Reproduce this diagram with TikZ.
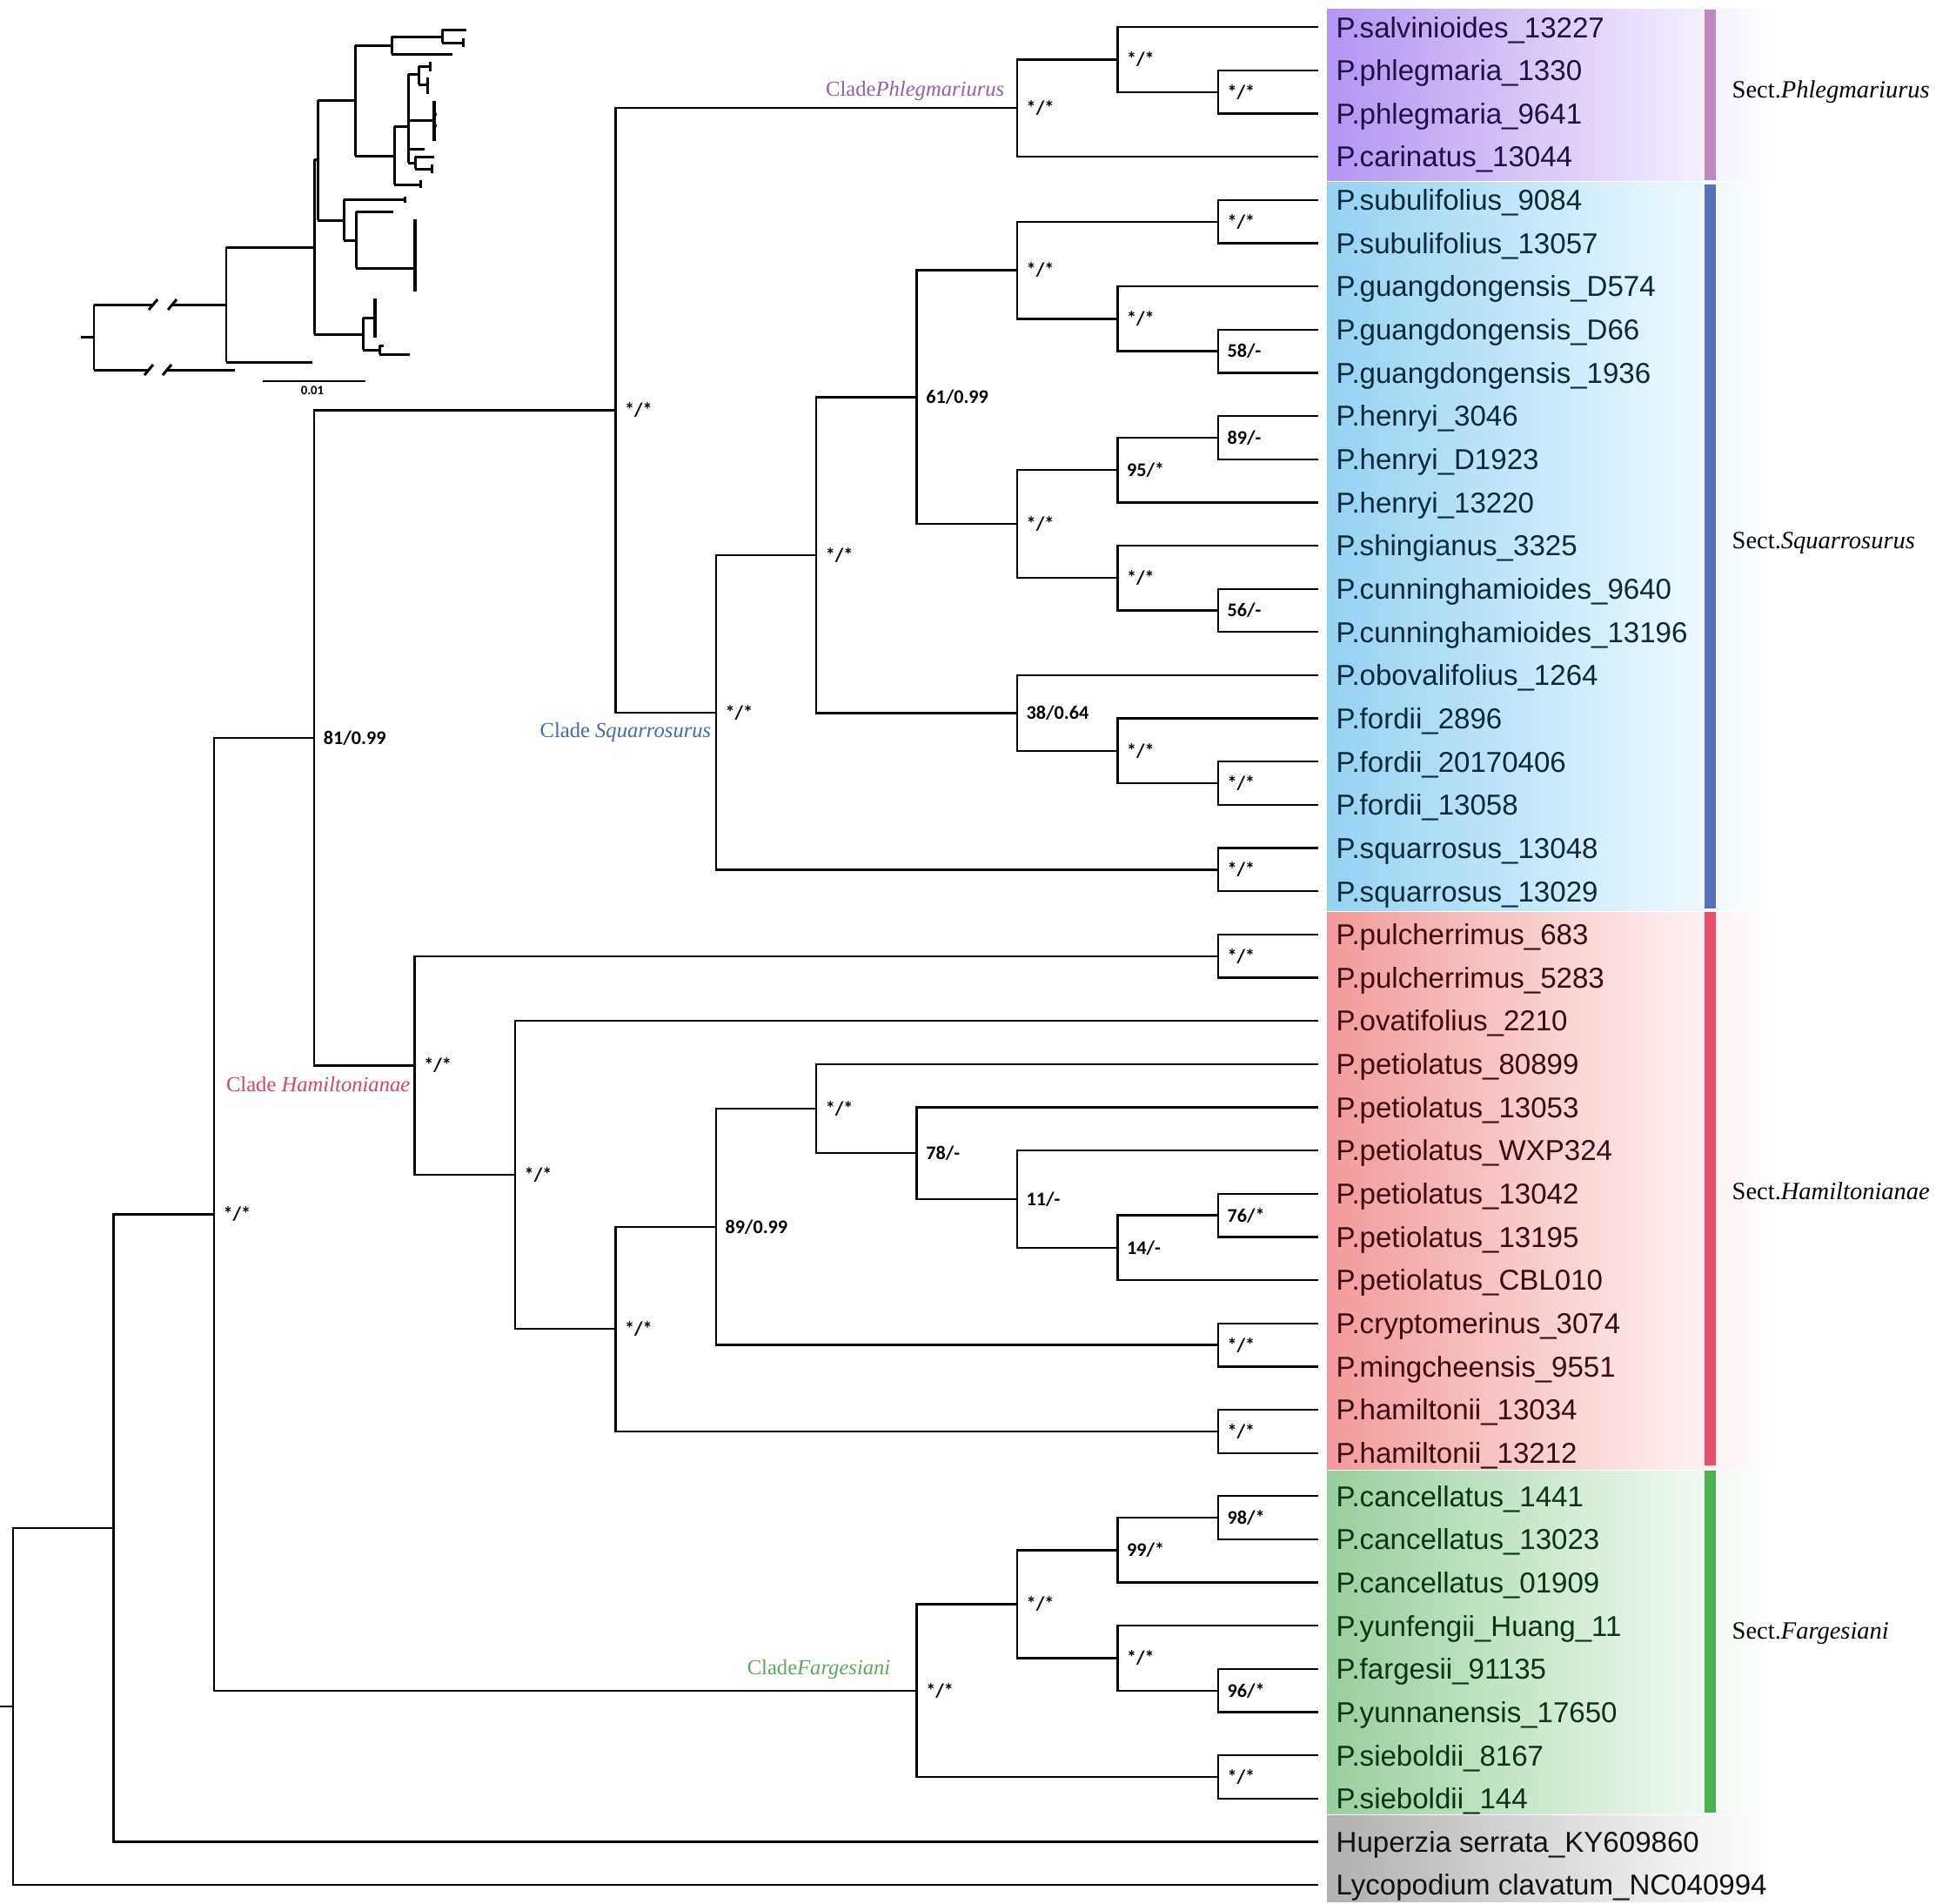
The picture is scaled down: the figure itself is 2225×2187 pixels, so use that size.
\documentclass[tikz,border=0pt]{standalone}
\usepackage{fontspec}
\setmainfont{Liberation Serif}
\newfontfamily\leaffont{Liberation Sans}
\newfontfamily\supfamily{Carlito}
\definecolor{phlL}{HTML}{B394F3}\definecolor{phlM}{HTML}{DCCBF8}
\definecolor{sqrL}{HTML}{94D2F3}\definecolor{sqrM}{HTML}{C9EAFA}
\definecolor{hamL}{HTML}{F29A9B}\definecolor{hamM}{HTML}{FAD0D0}
\definecolor{farL}{HTML}{98CF9E}\definecolor{farM}{HTML}{CFE9D1}
\definecolor{outL}{HTML}{B0B0B0}\definecolor{outM}{HTML}{DADADA}
\definecolor{phlB}{HTML}{BF87BF}\definecolor{sqrB}{HTML}{5872B8}
\definecolor{hamB}{HTML}{E94F6C}\definecolor{farB}{HTML}{4CAF50}
\definecolor{phlT}{HTML}{1E1046}\definecolor{sqrT}{HTML}{0A2A3C}
\definecolor{hamT}{HTML}{3C0A10}\definecolor{farT}{HTML}{0A3414}
\definecolor{outT}{HTML}{111111}
\definecolor{phlC}{HTML}{8C63A8}\definecolor{sqrC}{HTML}{3F6CB2}
\definecolor{hamC}{HTML}{D6436C}\definecolor{farC}{HTML}{5FA660}
\newcommand\leafrow[3]{%
  \coordinate (t#1) at (1515.2,{31.2+49.65*#1});
  \node[leaf,text=#3] (l#1) at (1535,{43+49.65*#1}) {#2};}
\newcommand\suplab[2]{\node[suplabel] (s#1) at (n#1) {#2};}
\begin{document}
\begin{tikzpicture}[x=0.01cm,y=-0.01cm,
  br/.style={line width=0.65pt,line join=miter},
  ins/.style={line width=0.85pt},
  leaf/.style={font=\leaffont\fontsize{9.4}{11}\selectfont,anchor=base west,inner sep=0pt},
  suplabel/.style={font=\supfamily\bfseries\fontsize{6.3}{7}\selectfont,anchor=west,inner sep=0pt,xshift=0.1cm},
  clade/.style={font=\fontsize{7}{8}\selectfont,anchor=base east,inner sep=0pt},
  sect/.style={font=\fontsize{8.1}{9}\selectfont,anchor=west,inner sep=0pt}]
\useasboundingbox (0,0) rectangle (2225,2187);
% ---------- coloured bands ----------
\shade[left color=phlL,right color=white,middle color=phlM] (1525,10) rectangle (2035,207.7);
\shade[left color=sqrL,right color=white,middle color=sqrM] (1525,209.7) rectangle (2035,1046);
\shade[left color=hamL,right color=white,middle color=hamM] (1525,1048) rectangle (2035,1688.6);
\shade[left color=farL,right color=white,middle color=farM] (1525,1690.6) rectangle (2035,2084);
\shade[left color=outL,right color=white,middle color=outM] (1525,2086) rectangle (2035,2185);
\fill[phlB] (1959,11) rectangle (1972,207);
\fill[sqrB] (1959,212) rectangle (1972,1044);
\fill[hamB] (1959,1048) rectangle (1972,1684);
\fill[farB] (1959,1690) rectangle (1972,2083);
\node[sect] (sPh) at (1990,106) {Sect.\textit{Phlegmariurus}};
\node[sect] (sSq) at (1990,624) {Sect.\textit{Squarrosurus}};
\node[sect] (sHa) at (1990,1369) {Sect.\textit{Hamiltonianae}};
\node[sect] (sFa) at (1990,1877) {Sect.\textit{Fargesiani}};
% ---------- leaves ----------
\leafrow{0}{P.salvinioides\_13227}{phlT}
\leafrow{1}{P.phlegmaria\_1330}{phlT}
\leafrow{2}{P.phlegmaria\_9641}{phlT}
\leafrow{3}{P.carinatus\_13044}{phlT}
\leafrow{4}{P.subulifolius\_9084}{sqrT}
\leafrow{5}{P.subulifolius\_13057}{sqrT}
\leafrow{6}{P.guangdongensis\_D574}{sqrT}
\leafrow{7}{P.guangdongensis\_D66}{sqrT}
\leafrow{8}{P.guangdongensis\_1936}{sqrT}
\leafrow{9}{P.henryi\_3046}{sqrT}
\leafrow{10}{P.henryi\_D1923}{sqrT}
\leafrow{11}{P.henryi\_13220}{sqrT}
\leafrow{12}{P.shingianus\_3325}{sqrT}
\leafrow{13}{P.cunninghamioides\_9640}{sqrT}
\leafrow{14}{P.cunninghamioides\_13196}{sqrT}
\leafrow{15}{P.obovalifolius\_1264}{sqrT}
\leafrow{16}{P.fordii\_2896}{sqrT}
\leafrow{17}{P.fordii\_20170406}{sqrT}
\leafrow{18}{P.fordii\_13058}{sqrT}
\leafrow{19}{P.squarrosus\_13048}{sqrT}
\leafrow{20}{P.squarrosus\_13029}{sqrT}
\leafrow{21}{P.pulcherrimus\_683}{hamT}
\leafrow{22}{P.pulcherrimus\_5283}{hamT}
\leafrow{23}{P.ovatifolius\_2210}{hamT}
\leafrow{24}{P.petiolatus\_80899}{hamT}
\leafrow{25}{P.petiolatus\_13053}{hamT}
\leafrow{26}{P.petiolatus\_WXP324}{hamT}
\leafrow{27}{P.petiolatus\_13042}{hamT}
\leafrow{28}{P.petiolatus\_13195}{hamT}
\leafrow{29}{P.petiolatus\_CBL010}{hamT}
\leafrow{30}{P.cryptomerinus\_3074}{hamT}
\leafrow{31}{P.mingcheensis\_9551}{hamT}
\leafrow{32}{P.hamiltonii\_13034}{hamT}
\leafrow{33}{P.hamiltonii\_13212}{hamT}
\leafrow{34}{P.cancellatus\_1441}{farT}
\leafrow{35}{P.cancellatus\_13023}{farT}
\leafrow{36}{P.cancellatus\_01909}{farT}
\leafrow{37}{P.yunfengii\_Huang\_11}{farT}
\leafrow{38}{P.fargesii\_91135}{farT}
\leafrow{39}{P.yunnanensis\_17650}{farT}
\leafrow{40}{P.sieboldii\_8167}{farT}
\leafrow{41}{P.sieboldii\_144}{farT}
\leafrow{42}{Huperzia serrata\_KY609860}{outT}
\leafrow{43}{Lycopodium clavatum\_NC040994}{outT}
% ---------- internal nodes ----------
\coordinate (stub) at (0,1961);
\coordinate (nRoot) at (15,1961);
\coordinate (nA) at (130.4,1755.95);
\coordinate (nB) at (245.8,1395.4);
\coordinate (nC) at (361.2,848);
\coordinate (nD) at (707.4,471.5);
\coordinate (nF) at (1169,124.3);
\coordinate (nF1) at (1284.4,68.45);
\coordinate (nF2) at (1399.8,105.7);
\coordinate (nE) at (822.8,818.65);
\coordinate (nG) at (938.2,637.9);
\coordinate (nI) at (1053.6,456.35);
\coordinate (nK) at (1169,310.5);
\coordinate (nK1) at (1399.8,254.65);
\coordinate (nK2) at (1284.4,366.35);
\coordinate (nK3) at (1399.8,403.6);
\coordinate (nL) at (1169,602.2);
\coordinate (nL1) at (1284.4,540.15);
\coordinate (nL1a) at (1399.8,502.9);
\coordinate (nL2) at (1284.4,664.25);
\coordinate (nL2a) at (1399.8,701.5);
\coordinate (nJ) at (1169,819.4);
\coordinate (nJ1) at (1284.4,862.85);
\coordinate (nJ2) at (1399.8,900.1);
\coordinate (nH) at (1399.8,999.4);
\coordinate (nM) at (476.6,1224.5);
\coordinate (nM1) at (1399.8,1098.7);
\coordinate (nN) at (592,1350.25);
\coordinate (nO) at (707.4,1527.3);
\coordinate (nP) at (822.8,1409.8);
\coordinate (nQ) at (938.2,1274);
\coordinate (nR) at (1053.6,1325.2);
\coordinate (nS) at (1169,1377.95);
\coordinate (nT) at (1284.4,1433.85);
\coordinate (nU) at (1399.8,1396.6);
\coordinate (nP2) at (1399.8,1545.55);
\coordinate (nO2) at (1399.8,1644.85);
\coordinate (nV) at (1053.6,1942.75);
\coordinate (nW) at (1169,1843.45);
\coordinate (nX) at (1284.4,1781.4);
\coordinate (nX1) at (1399.8,1744.15);
\coordinate (nY) at (1284.4,1905.5);
\coordinate (nY1) at (1399.8,1942.75);
\coordinate (nZ) at (1399.8,2042.05);
% ---------- branches ----------
\draw[br] (stub) -- (nRoot);
\foreach \p/\a/\b in {nRoot/nA/t43, nA/nB/t42, nB/nC/nV, nC/nD/nM, nD/nF/nE,
  nF/nF1/t3, nF1/t0/nF2, nF2/t1/t2, nE/nG/nH, nG/nI/nJ, nI/nK/nL,
  nK/nK1/nK2, nK1/t4/t5, nK2/t6/nK3, nK3/t7/t8, nL/nL1/nL2, nL1/nL1a/t11,
  nL1a/t9/t10, nL2/t12/nL2a, nL2a/t13/t14, nJ/t15/nJ1, nJ1/t16/nJ2,
  nJ2/t17/t18, nH/t19/t20, nM/nM1/nN, nM1/t21/t22, nN/t23/nO, nO/nP/nO2,
  nP/nQ/nP2, nQ/t24/nR, nR/t25/nS, nS/t26/nT, nT/nU/t29, nU/t27/t28,
  nP2/t30/t31, nO2/t32/t33, nV/nW/nZ, nW/nX/nY, nX/nX1/t36, nX1/t34/t35,
  nY/t37/nY1, nY1/t38/t39, nZ/t40/t41}
  {\draw[br] (\p) |- (\a); \draw[br] (\p) |- (\b);}
% ---------- support values ----------
\suplab{B}{*/*}\suplab{C}{81/0.99}\suplab{D}{*/*}
\suplab{F}{*/*}\suplab{F1}{*/*}\suplab{F2}{*/*}
\suplab{E}{*/*}\suplab{G}{*/*}\suplab{I}{61/0.99}
\suplab{K}{*/*}\suplab{K1}{*/*}\suplab{K2}{*/*}\suplab{K3}{58/-}
\suplab{L}{*/*}\suplab{L1}{95/*}\suplab{L1a}{89/-}\suplab{L2}{*/*}\suplab{L2a}{56/-}
\suplab{J}{38/0.64}\suplab{J1}{*/*}\suplab{J2}{*/*}\suplab{H}{*/*}
\suplab{M}{*/*}\suplab{M1}{*/*}\suplab{N}{*/*}\suplab{O}{*/*}
\suplab{P}{89/0.99}\suplab{Q}{*/*}\suplab{R}{78/-}\suplab{S}{11/-}
\suplab{T}{14/-}\suplab{U}{76/*}\suplab{P2}{*/*}\suplab{O2}{*/*}
\suplab{V}{*/*}\suplab{W}{*/*}\suplab{X}{99/*}\suplab{X1}{98/*}
\suplab{Y}{*/*}\suplab{Y1}{96/*}\suplab{Z}{*/*}
% ---------- clade names ----------
\node[clade,text=phlC] (cPh) at (1155,110) {Clade\textit{Phlegmariurus}};
\node[clade,text=sqrC] (cSq) at (818,847) {Clade \textit{Squarrosurus}};
\node[clade,text=hamC] (cHa) at (472,1254) {Clade \textit{Hamiltonianae}};
\node[clade,text=farC] (cFa) at (1024,1924) {Clade\textit{Fargesiani}};
% ---------- inset tree ----------
\begin{scope}[ins]
\draw (93,387) -- (108,387);
\draw (108,350) -- (108,425);
\draw (108,350) -- (176,350); \draw (198,350) -- (260,350);
\draw (171,356) -- (181,344); \draw (193,356) -- (203,344);
\draw (108,425) -- (171,425); \draw (192,425) -- (270,425);
\draw (166,431) -- (176,419); \draw (187,431) -- (197,419);
\draw (260,284) -- (260,416);
\draw (260,416) -- (359,416);
\draw (260,284) -- (361,284);
\draw (361,183) -- (361,384);
\draw (361,183) -- (365,183);
\draw (365,115) -- (365,253);
\draw (365,115) -- (408,115);
\draw (408,52) -- (408,179);
\draw (408,52) -- (450,52);
\draw (450,42) -- (450,62);
\draw (450,42) -- (508,42);
\draw (450,62) -- (520,62);
\draw (508,34) -- (508,49);
\draw (508,34) -- (536,34);
\draw (508,49) -- (532,49);
\draw (532,44) -- (532,54);
\draw (408,179) -- (453,179);
\draw (453,145) -- (453,212);
\draw (453,212) -- (483,212); \draw (483,207) -- (483,216);
\draw (453,145) -- (469,145);
\draw (469,85) -- (469,187);
\draw (469,85) -- (481,85); \draw (481,76) -- (481,97);
\draw (481,76) -- (494,76); \draw (494,71) -- (494,82);
\draw (481,97) -- (491,97); \draw (491,89) -- (491,108);
\draw (469,138) -- (499,138); \draw[line width=1.2pt] (499,116) -- (499,162);
\draw (499,131) -- (502,131); \draw (499,144) -- (502,144);
\draw (469,171) -- (488,171);
\draw (469,187) -- (477,187); \draw (477,180) -- (477,194);
\draw (477,180) -- (499,180); \draw (477,194) -- (496,194);
\draw (496,189) -- (496,199);
\draw (365,253) -- (395,253);
\draw (395,229) -- (395,276);
\draw (395,229) -- (465,229); \draw (465,226) -- (465,233);
\draw (395,276) -- (409,276);
\draw (409,243) -- (409,308);
\draw (409,243) -- (452,243);
\draw (409,308) -- (476,308);
\draw[line width=1.2pt] (477,252) -- (477,335);
\draw (361,384) -- (417,384);
\draw (417,365) -- (417,402);
\draw (417,365) -- (429,365);
\draw[line width=1.1pt] (431,343) -- (431,388);
\draw (417,402) -- (436,402);
\draw (436,397) -- (436,407);
\draw (436,397) -- (441,397);
\draw (436,407) -- (471,407);
\end{scope}
\draw[line width=0.5pt] (302,438) -- (420,438);
\node[font=\supfamily\bfseries\fontsize{4.2}{5}\selectfont,inner sep=0pt] (scl) at (359,449) {0.01};
\end{tikzpicture}
\end{document}
